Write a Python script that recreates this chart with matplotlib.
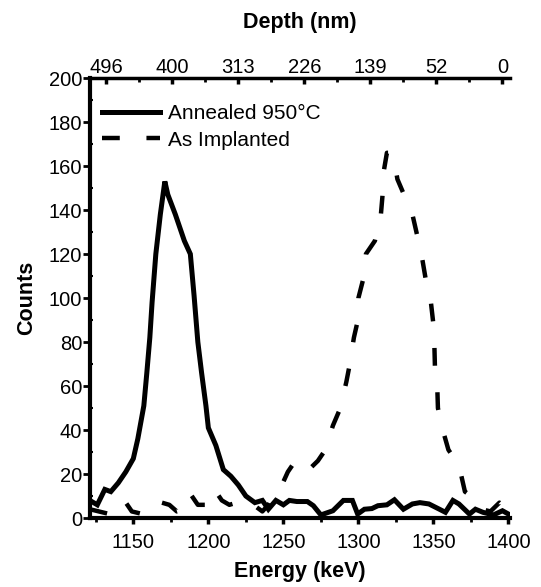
import matplotlib
matplotlib.use("Agg")
import matplotlib.pyplot as plt
from matplotlib.ticker import MultipleLocator, FixedLocator

plt.rcParams['font.family'] = ['Liberation Sans', 'DejaVu Sans']

# Annealed 950C (solid)
ann_energy = [1121, 1126, 1131, 1135, 1140, 1145, 1150, 1153, 1157, 1159, 1161, 1162.5,
              1165, 1168, 1171, 1173, 1178, 1184, 1188, 1190.5, 1193, 1195.5, 1198.4,
              1200, 1205, 1210, 1215, 1220, 1225, 1231, 1236, 1240, 1245, 1250, 1254,
              1259, 1266, 1270, 1275, 1283, 1290, 1296, 1299.5, 1304, 1309, 1313, 1319,
              1324, 1330, 1336, 1341, 1347, 1354, 1358, 1363, 1367, 1374, 1378, 1383,
              1390, 1396, 1400]
ann_counts = [8, 6, 13, 12, 16, 21, 27, 36, 51, 66, 82, 98,
              120, 138, 153, 147, 138, 126, 120, 101, 80, 66, 51,
              41, 33, 22, 19, 15, 10, 7, 8, 4, 8, 6, 8,
              7.5, 7.5, 5.6, 1.4, 3.3, 8, 8, 1.8, 4, 4.3, 5.6, 6,
              8.3, 4, 6.4, 7, 6.4, 4, 2.6, 8, 6.4, 1.8, 4, 2.6,
              1.4, 3.3, 1.8]

# As implanted (dashed)
imp_energy = [1121, 1127, 1133, 1138, 1141, 1144, 1149, 1155, 1160, 1164, 1169, 1174,
              1179, 1184, 1188, 1193, 1199, 1204, 1209, 1214, 1219, 1223, 1230, 1236,
              1240, 1244, 1249, 1253, 1257, 1262, 1267, 1273, 1278, 1283, 1288, 1292,
              1294, 1297, 1299, 1300, 1303, 1305, 1311, 1315, 1316, 1317, 1319, 1322,
              1324, 1326, 1331, 1336, 1340, 1342, 1345, 1348, 1350, 1350.5, 1351, 1352.5,
              1353, 1355, 1360, 1367, 1371, 1375, 1380, 1382, 1388, 1394, 1399]
imp_counts = [4, 3, 2, 3, 6, 8, 3, 2, 2, 3, 7, 6,
              3, 4, 11, 6, 6, 13, 8, 6, 7, 8, 6, 3,
              6, 12, 15, 21, 25, 21, 22, 26, 31, 42, 50, 62,
              69, 82, 88, 100, 108, 120, 126, 138, 146, 158, 166, 166,
              162, 154, 146, 138, 126, 120, 108, 100, 88, 82, 69, 61,
              50, 43, 31, 24, 12, 10, 6, 4, 3, 7, 4]

# top axis: depth labels and where they sit on the energy scale
depth_labels = ['496', '400', '313', '226', '139', '52', '0']
depth_pos = [1132, 1176, 1220, 1264, 1308, 1352, 1396]

fig = plt.figure(figsize=(5.41, 5.87), dpi=100)
ax = fig.add_axes([0.166, 0.1175, 0.7766, 0.7496])

ax.plot(ann_energy, ann_counts, color='black', lw=3.6, label='Annealed 950°C',
        solid_joinstyle='miter')
ax.plot(imp_energy, imp_counts, color='black', lw=3.2, linestyle=(0, (4.0, 6.0)),
        label='As Implanted')

ax.set_xlim(1121, 1401)
ax.set_ylim(0, 200)
ax.set_xticks([1150, 1200, 1250, 1300, 1350, 1400])
ax.xaxis.set_minor_locator(MultipleLocator(25))
ax.set_yticks(range(0, 201, 20))
ax.yaxis.set_minor_locator(MultipleLocator(10))

ax.spines['right'].set_visible(False)
ax.spines['left'].set_linewidth(3)
ax.spines['bottom'].set_linewidth(3)
ax.spines['top'].set_linewidth(2.5)

ax.tick_params(axis='x', which='major', direction='out', length=4, width=2.5,
               labelsize=14.5, pad=7)
ax.tick_params(axis='x', which='minor', direction='out', length=3, width=2)
ax.tick_params(axis='y', which='major', direction='out', length=5, width=2,
               labelsize=14.5, pad=0.5)
ax.tick_params(axis='y', which='minor', direction='in', length=2.5, width=1.5)

ax.set_xlabel('Energy (keV)', fontsize=15.5, fontweight='bold', labelpad=6)
ax.set_ylabel('Counts', fontsize=15.5, fontweight='bold')
ax.yaxis.set_label_coords(-0.125, 0.5)

ax2 = ax.twiny()
ax2.set_xlim(ax.get_xlim())
ax2.xaxis.set_major_locator(FixedLocator(depth_pos))
ax2.set_xticklabels(depth_labels)
mids = [(a + b) / 2 for a, b in zip(depth_pos[:-1], depth_pos[1:])]
ax2.xaxis.set_minor_locator(FixedLocator(mids))
ax2.tick_params(axis='x', which='major', direction='in', length=4, width=2.5,
                labelsize=14.5, pad=1)
ax2.tick_params(axis='x', which='minor', direction='in', length=3, width=2)
for s in ax2.spines.values():
    s.set_visible(False)
ax2.set_xlabel('Depth (nm)', fontsize=15.5, fontweight='bold', labelpad=21)

ax.legend(loc='upper left', bbox_to_anchor=(0.03, 0.94), frameon=False,
          fontsize=15, handlelength=2.75, handletextpad=0.4, labelspacing=0.35,
          borderaxespad=0, borderpad=0)

fig.savefig('out.png', dpi=100)
